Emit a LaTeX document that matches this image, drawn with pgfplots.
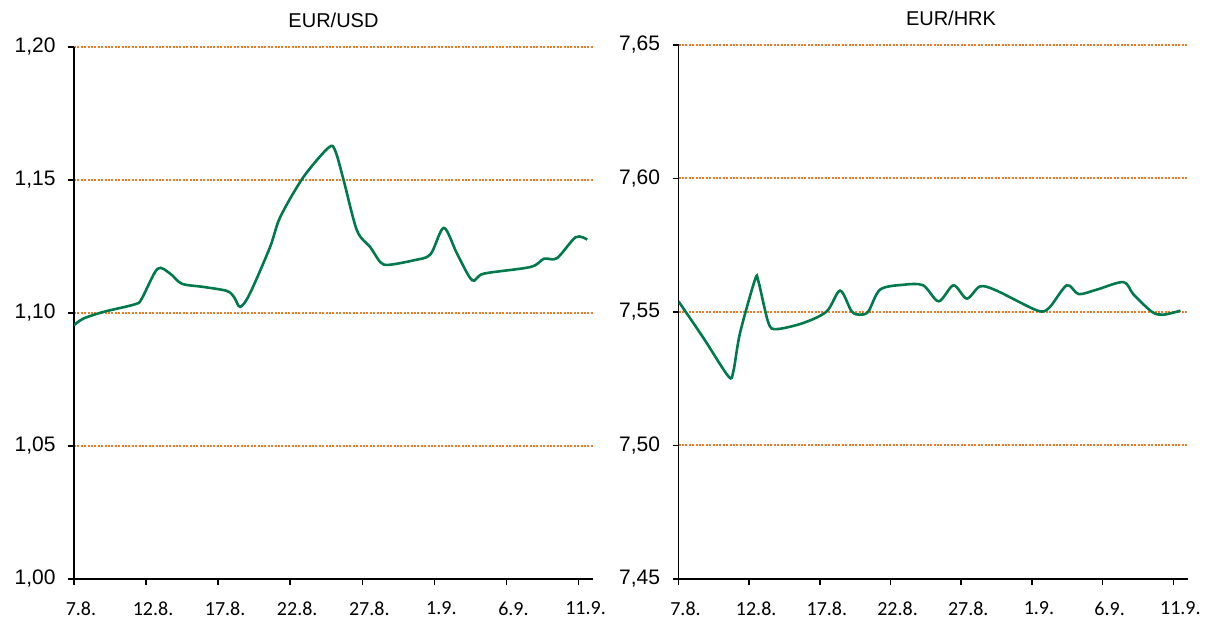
\documentclass[border=0pt]{standalone}
\usepackage{pgfplots}
\pgfplotsset{compat=1.18}
\usepackage{fontspec}
\setmainfont{Liberation Sans}
\newfontfamily\carlito{Carlito}
\definecolor{lineg}{RGB}{0,122,76}
\definecolor{gridor}{RGB}{240,122,40}
\begin{document}
\begin{tikzpicture}
\path[use as bounding box] (0,0) rectangle (1206bp,618bp);
\pgfplotsset{
 fxstyle/.style={
  scale only axis,
  xmin=0, xmax=36,
  xtick={0,5,...,35},
  xticklabels={7.8.,12.8.,17.8.,22.8.,27.8.,1.9.,6.9.,11.9.},
  axis x line*=bottom, axis y line*=left,
  axis line style={black, line width=1.6bp},
  tick align=outside,
  major tick length=6bp,
  tick style={black, line width=1.6bp},
  ymajorgrids,
  grid style={gridor, line width=2bp, dash pattern=on 2bp off 1.4bp},
  /pgf/number format/use comma,
  /pgf/number format/fixed,
  /pgf/number format/fixed zerofill,
  /pgf/number format/precision=2,
  /pgf/number format/assume math mode=true,
  yticklabel={\fontsize{21bp}{24bp}\selectfont\pgfmathprintnumber{\tick}},
  yticklabel style={xshift=-9bp},
  xticklabel style={font=\carlito\fontsize{20bp}{23bp}\selectfont, xshift=7bp, yshift=-13bp},
  title style={font=\fontsize{20bp}{24bp}\selectfont, anchor=center, at={(0.5,1)}, yshift=21bp},
 }
}
\begin{axis}[fxstyle,
  at={(74bp,39bp)}, anchor=south west,
  width=519bp, height=532bp,
  ymin=1.00, ymax=1.20, ytick={1.00,1.05,...,1.21},
  title={EUR/USD}]
\addplot[lineg, line width=2.6bp, smooth, mark=none] coordinates {
(0,1.0954) (0.65,1.0979) (2.04,1.1004) (4.24,1.1033) (4.7,1.1054)
(5.79,1.1166) (6.67,1.1148) (7.48,1.1110) (8.98,1.1098) (10.6,1.1083)
(11.1,1.1060) (11.53,1.1023) (12.2,1.1073) (13.6,1.1248) (14.3,1.1360)
(15.9,1.1510) (17.66,1.1622) (18.12,1.1610) (18.7,1.1500) (19.63,1.1310)
(20.56,1.1247) (21.25,1.1191) (21.83,1.1181) (23.56,1.1198) (24.72,1.1220)
(25.65,1.1320) (26.57,1.1223) (27.62,1.1123) (28.43,1.1148) (31.67,1.1173)
(32.6,1.1204) (33.5,1.1206) (34.8,1.1285) (35.6,1.1276)
};
\end{axis}
\begin{axis}[fxstyle,
  at={(678.5bp,39bp)}, anchor=south west,
  width=509bp, height=534bp,
  ymin=7.45, ymax=7.65, ytick={7.45,7.50,...,7.66},
  title={EUR/HRK}, title style={xshift=18bp}]
\addplot[lineg, line width=2.6bp, smooth, mark=none] coordinates {
(0,7.5540) (1.76,7.5403) (3.53,7.5259) (3.88,7.5278) (4.35,7.5421)
(5.41,7.5621) (5.65,7.5615) (6.36,7.5459) (6.95,7.5436) (8.83,7.5459)
(10.48,7.5502) (11.43,7.5580) (12.25,7.5502) (12.84,7.5490) (13.43,7.5502)
(14.26,7.5584) (15.9,7.5602) (17.3,7.5600) (18.4,7.5540) (19.45,7.5600)
(20.39,7.5550) (21.33,7.5596) (22.5,7.5580) (25.35,7.5506) (26.2,7.5515)
(27.46,7.5600) (28.3,7.5567) (29.6,7.5584) (31.47,7.5612) (32.19,7.5565)
(33.5,7.5500) (34.3,7.5490) (35.5,7.5505)
};
\end{axis}
\end{tikzpicture}
\end{document}
